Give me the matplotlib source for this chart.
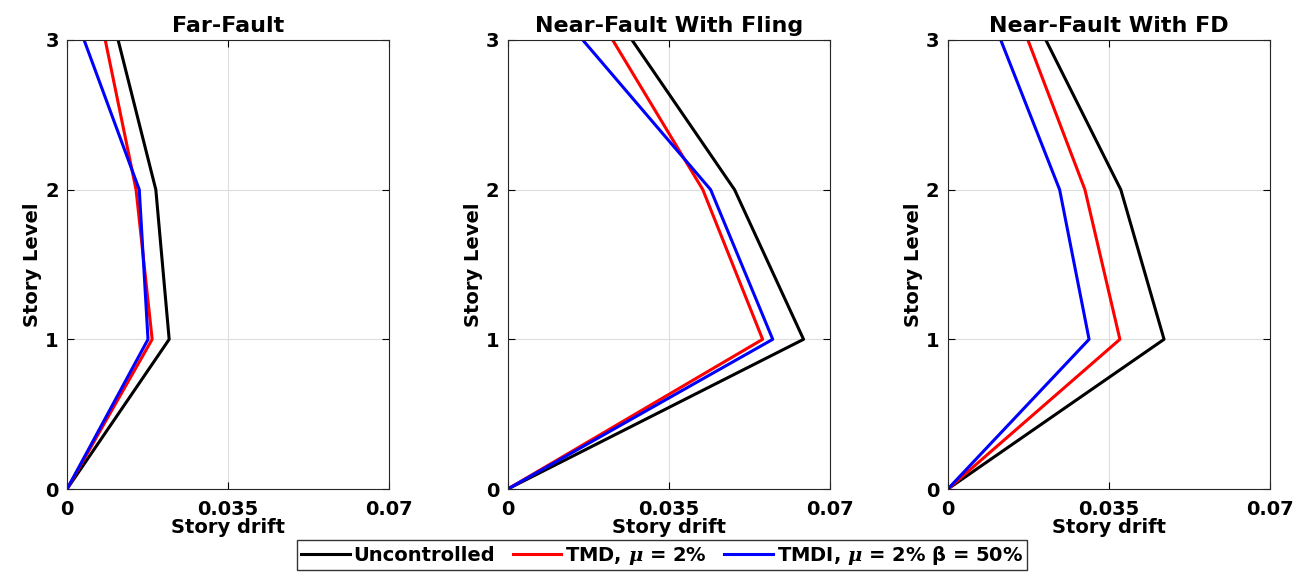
import numpy as np
import matplotlib.pyplot as plt

plt.rcParams['font.family'] = ['DejaVu Sans']
plt.rcParams['font.weight'] = 'bold'
plt.rcParams['mathtext.fontset'] = 'custom'
plt.rcParams['mathtext.it'] = 'DejaVu Serif:italic'

# story levels
levels = [0, 1, 2, 3]

titles = ['Far-Fault', 'Near-Fault With Fling', 'Near-Fault With FD']

# story drift per level (0..3)
uncontrolled = [
    [0, 0.0222, 0.0193, 0.0111],
    [0, 0.0643, 0.0493, 0.0270],
    [0, 0.0470, 0.0376, 0.0213],
]
tmd = [
    [0, 0.0185, 0.0150, 0.0083],
    [0, 0.0554, 0.0424, 0.0228],
    [0, 0.0374, 0.0298, 0.0174],
]
tmdi = [
    [0, 0.0176, 0.0157, 0.0037],
    [0, 0.0576, 0.0441, 0.0163],
    [0, 0.0307, 0.0243, 0.0115],
]

x_ticks = [0, 0.035, 0.07]
x_ticklabels = ['0', '0.035', '0.07']

fig = plt.figure(figsize=(13.02, 5.72), dpi=100)
lefts = [0.0515, 0.390, 0.728]
handles = []
for i, left in enumerate(lefts):
    ax = fig.add_axes([left, 0.1451, 0.2473, 0.785])
    h1, = ax.plot(uncontrolled[i], levels, color='black', lw=2.2)
    h2, = ax.plot(tmd[i], levels, color='red', lw=2.2)
    h3, = ax.plot(tmdi[i], levels, color='blue', lw=2.2)
    handles = [h1, h2, h3]
    ax.set_xlim(0, 0.07)
    ax.set_ylim(0, 3)
    ax.set_xticks(x_ticks)
    ax.set_xticklabels(x_ticklabels)
    ax.set_yticks(levels)
    ax.grid(True, color='#dddddd', lw=0.8)
    ax.set_axisbelow(True)
    ax.tick_params(direction='in', top=True, right=True, labelsize=14,
                   length=5, width=0.8, pad=6)
    ax.tick_params(axis='x', pad=8)
    for s in ax.spines.values():
        s.set_linewidth(0.8)
        s.set_color('#262626')
    ax.set_title(titles[i], fontsize=16, fontweight='bold', pad=6)
    ax.set_xlabel('Story drift', fontsize=14, fontweight='bold', labelpad=-1)
    ax.set_ylabel('Story Level', fontsize=14, fontweight='bold', labelpad=2)

fig.legend(handles,
           ['Uncontrolled', r'TMD, $\mu$ = 2%', r'TMDI, $\mu$ = 2% β = 50%'],
           loc='center', bbox_to_anchor=(0.5085, 0.0297), ncol=3,
           fontsize=14, frameon=True, fancybox=False, edgecolor='black',
           handlelength=2.5, handletextpad=0.2, columnspacing=0.9,
           borderpad=0.2, borderaxespad=0)

fig.savefig('out.png', dpi=100)
